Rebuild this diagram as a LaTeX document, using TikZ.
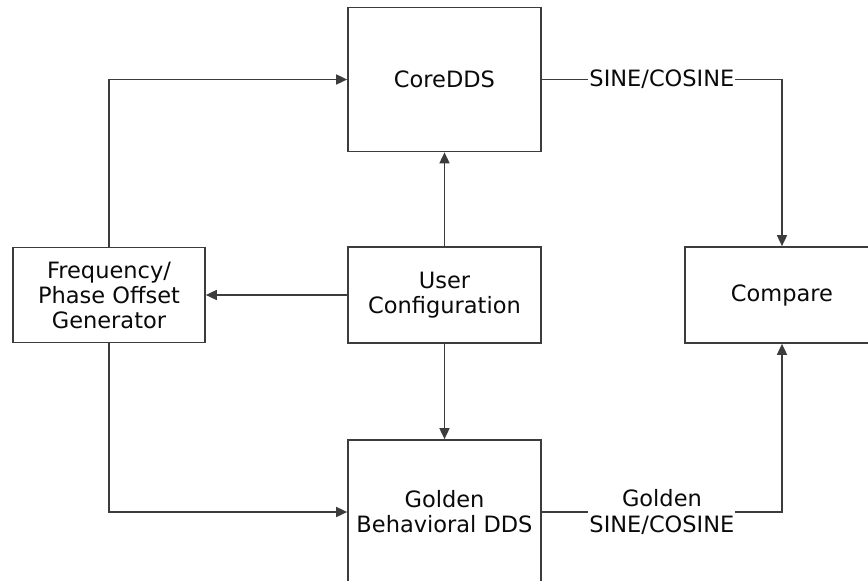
\documentclass[tikz,border=0pt]{standalone}
\usepackage{fontspec}
\setmainfont{DejaVu Sans}
\usetikzlibrary{arrows.meta}
\definecolor{linec}{RGB}{60,60,60}
\definecolor{textc}{RGB}{10,10,10}
\tikzset{
  blk/.style={draw=linec, line width=1.7pt, fill=white, align=center, text=textc,
    font=\fontsize{22.5}{25}\selectfont, inner sep=0pt},
  arr/.style={draw=linec, line width=1.7pt, -{Triangle[length=11pt,width=10pt]}},
  lbl/.style={fill=white, inner sep=1pt, align=center, text=textc,
    font=\fontsize{22.5}{25.5}\selectfont},
}
\begin{document}
\begin{tikzpicture}[x=1pt,y=-1pt]
\useasboundingbox (0,0) rectangle (868,581);
\clip (0,0) rectangle (868,581);
\node[blk, minimum width=193pt, minimum height=144pt] (core) at (444.5,79.5) {CoreDDS};
\node[blk, minimum width=193pt, minimum height=96pt] (user) at (444.5,295) {User\\Configuration};
\node[blk, minimum width=193pt, minimum height=144pt] (golden) at (444.5,512) {Golden\\Behavioral DDS};
\node[blk, minimum width=192pt, minimum height=95pt] (fpog) at (109,295) {Frequency/\\Phase Offset\\Generator};
\node[blk, minimum width=194pt, minimum height=96pt] (cmp) at (782,295) {Compare};
\draw[arr] (fpog.north) |- (core.west);
\draw[arr] (fpog.south) |- (golden.west);
\draw[arr] (user.west) -- (fpog.east);
\draw[arr] (user.north) -- (core.south);
\draw[arr] (user.south) -- (golden.north);
\draw[arr] (core.east) -- node[lbl] {SINE/COSINE} (core.east -| cmp.north) -- (cmp.north);
\draw[arr] (golden.east) -- node[lbl] {Golden\\SINE/COSINE} (golden.east -| cmp.south) -- (cmp.south);
\end{tikzpicture}
\end{document}
